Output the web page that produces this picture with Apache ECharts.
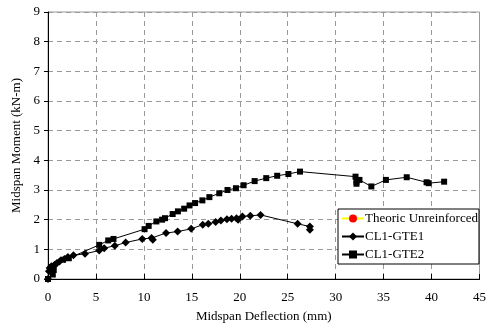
<!DOCTYPE html>
<html>
<head>
<meta charset="utf-8">
<script src="https://cdn.jsdelivr.net/npm/echarts@6/dist/echarts.min.js"></script>
<style>
  html, body { margin: 0; padding: 0; background: #fff; }
  #chart { width: 489px; height: 330px; }
</style>
</head>
<body>
<div id="chart"></div>
<script>
// theoretic unreinforced curve (deflection mm, moment kN-m)
const theoricX = [0, 0.5];
const theoricY = [0, 0.35];

// CL1-GTE1 (diamonds)
const gte1X = [0, 0.1, 0.17, 0.35, 0.69, 0.93, 1.2, 1.72, 2.07, 2.65, 3.86, 5.34, 5.86, 6.97, 8.1, 9.83, 10.8, 10.93, 12.31, 13.52, 14.93, 16.14, 16.72, 17.48, 18.03, 18.66, 19.14, 19.66, 19.83, 20.28, 21.1, 22.17, 26.03, 27.31, 27.31];
const gte1Y = [0, 0.26, 0.37, 0.43, 0.48, 0.54, 0.59, 0.67, 0.74, 0.8, 0.85, 0.96, 1.04, 1.12, 1.23, 1.35, 1.38, 1.32, 1.55, 1.6, 1.69, 1.83, 1.86, 1.92, 1.97, 2.01, 2.03, 2.05, 2.0, 2.11, 2.13, 2.16, 1.86, 1.77, 1.66];

// CL1-GTE2 (squares)
const gte2X = [0, 0.5, 0.6, 1.55, 2.17, 5.34, 6.28, 6.83, 10.07, 10.5, 11.3, 11.9, 12.2, 13.0, 13.55, 14.2, 14.76, 15.34, 16.1, 16.83, 17.86, 18.72, 19.6, 20.4, 21.55, 22.76, 23.9, 25.07, 26.28, 32.07, 32.17, 32.17, 32.48, 33.72, 35.24, 37.41, 39.48, 39.7, 41.31];
const gte2Y = [0, 0.15, 0.3, 0.65, 0.7, 1.15, 1.3, 1.35, 1.68, 1.79, 1.94, 2.0, 2.05, 2.19, 2.28, 2.37, 2.48, 2.56, 2.65, 2.76, 2.89, 3.0, 3.06, 3.16, 3.3, 3.4, 3.48, 3.54, 3.62, 3.45, 3.28, 3.21, 3.34, 3.12, 3.34, 3.43, 3.26, 3.23, 3.28];

const xTicks = [0, 5, 10, 15, 20, 25, 30, 35, 40, 45];
const yTicks = [0, 1, 2, 3, 4, 5, 6, 7, 8, 9];

function pairs(xs, ys) { return xs.map((x, i) => [x, ys[i]]); }

const font = 'Liberation Serif, Times New Roman, serif';
const chart = echarts.init(document.getElementById('chart'));
chart.setOption({
  animation: false,
  textStyle: { fontFamily: font },
  grid: { left: 48, right: 6, top: 12, bottom: 51, show: true, borderColor: '#999', borderWidth: 1 },
  legend: {
    orient: 'vertical', left: 338, top: 209,
    backgroundColor: '#fff', borderColor: '#000', borderWidth: 1,
    padding: [3, 1, 3, 3], itemGap: 5, itemWidth: 22, itemHeight: 10,
    textStyle: { fontFamily: font, fontSize: 13, color: '#000', padding: [0, 0, 0, -4] },
    data: ['Theoric Unreinforced', 'CL1-GTE1', 'CL1-GTE2']
  },
  xAxis: {
    type: 'value', min: xTicks[0], max: xTicks[xTicks.length - 1], interval: 5,
    name: 'Midspan Deflection (mm)', nameLocation: 'middle', nameGap: 31,
    nameTextStyle: { fontFamily: font, fontSize: 13, color: '#000' },
    axisLine: { lineStyle: { color: '#000', width: 1 } },
    axisTick: { inside: true, length: 5, lineStyle: { color: '#000' } },
    axisLabel: { fontFamily: font, fontSize: 13, color: '#000', margin: 12 },
    splitLine: { show: true, lineStyle: { color: '#999', type: [5, 4] } }
  },
  yAxis: {
    type: 'value', min: yTicks[0], max: yTicks[yTicks.length - 1], interval: 1,
    name: 'Midspan Moment (kN-m)', nameLocation: 'middle', nameGap: 14,
    nameTextStyle: { fontFamily: font, fontSize: 13, color: '#000' },
    axisLine: { show: true, lineStyle: { color: '#000', width: 1 } },
    axisTick: { show: true, length: 4, lineStyle: { color: '#000' } },
    axisLabel: { fontFamily: font, fontSize: 13, color: '#000', margin: 8 },
    splitLine: { show: true, lineStyle: { color: '#999', type: [5, 4] } }
  },
  series: [
    {
      name: 'Theoric Unreinforced', type: 'line', z: 1,
      data: pairs(theoricX, theoricY),
      symbol: 'circle', symbolSize: 6,
      lineStyle: { color: '#ffff00', width: 1 },
      itemStyle: { color: '#ff0000' }
    },
    {
      name: 'CL1-GTE1', type: 'line', z: 3,
      data: pairs(gte1X, gte1Y),
      symbol: 'diamond', symbolSize: 8,
      lineStyle: { color: '#000', width: 1 },
      itemStyle: { color: '#000' }
    },
    {
      name: 'CL1-GTE2', type: 'line', z: 2,
      data: pairs(gte2X, gte2Y),
      symbol: 'rect', symbolSize: 6,
      lineStyle: { color: '#000', width: 1 },
      itemStyle: { color: '#000' }
    }
  ]
});
</script>
</body>
</html>
